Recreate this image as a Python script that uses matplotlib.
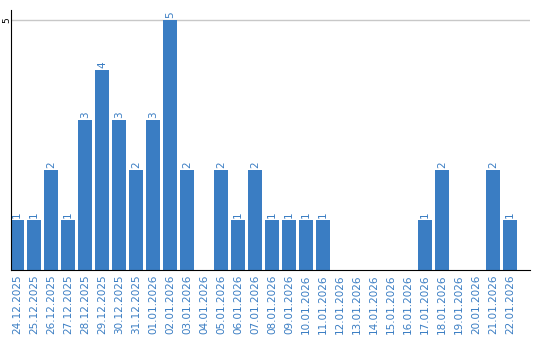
import matplotlib
matplotlib.use('Agg')
import matplotlib.pyplot as plt
import numpy as np

dates = ['24.12.2025', '25.12.2025', '26.12.2025', '27.12.2025', '28.12.2025',
         '29.12.2025', '30.12.2025', '31.12.2025', '01.01.2026', '02.01.2026',
         '03.01.2026', '04.01.2026', '05.01.2026', '06.01.2026', '07.01.2026',
         '08.01.2026', '09.01.2026', '10.01.2026', '11.01.2026', '12.01.2026',
         '13.01.2026', '14.01.2026', '15.01.2026', '16.01.2026', '17.01.2026',
         '18.01.2026', '19.01.2026', '20.01.2026', '21.01.2026', '22.01.2026']
counts = [1, 1, 2, 1, 3, 4, 3, 2, 3, 5, 2, 0, 2, 1, 2, 1, 1, 1, 1, 0,
          0, 0, 0, 0, 1, 2, 0, 0, 2, 1]

blue = '#3a7dc3'

fig = plt.figure(figsize=(5.4, 3.4), dpi=100)
ax = fig.add_axes([11/540, 70/340, 519/540, 260/340])

x = np.arange(len(dates))
ax.bar(x, counts, width=0.82, color=blue, zorder=2)
for xi, c in zip(x, counts):
    if c > 0:
        ax.text(xi, c + 0.04, str(c), rotation=90, ha='center', va='bottom',
                color=blue, fontsize=7.5)

ax.set_xlim(-0.35, 30.18)
ax.set_ylim(0, 5.2)
ax.set_xticks(x)
ax.set_xticklabels(dates, rotation=90, color=blue, fontsize=7.5)
ax.set_yticks([5])
ax.set_yticklabels(['5'], rotation=90, va='center', fontsize=6.5)
ax.tick_params(axis='x', length=0, pad=3)
ax.tick_params(axis='y', length=0, pad=0)
ax.yaxis.grid(True, color='#c8c8c8', linewidth=1, zorder=0)
for s in ['top', 'right']:
    ax.spines[s].set_visible(False)
ax.spines['left'].set_color('black')
ax.spines['bottom'].set_color('black')

fig.savefig('out.png', dpi=100)
